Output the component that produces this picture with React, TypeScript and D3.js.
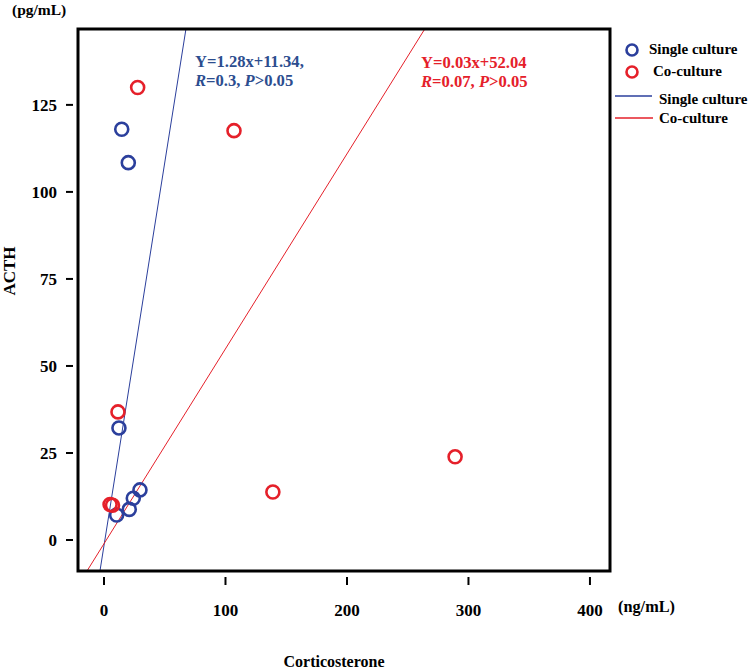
import React from "react";
import * as d3 from "d3";

// Corticosterone (ng/mL) vs ACTH (pg/mL)
const singleX = [14.6, 20, 12.3, 10.4, 20.8, 24.1, 29.6];
const singleY = [118, 108.4, 32.2, 7.2, 8.8, 12, 14.4];
const coX = [27.7, 107, 11.5, 5, 7, 139, 289];
const coY = [130, 117.6, 36.8, 10.2, 10, 13.8, 23.9];

// fitted lines as drawn: [slope, intercept]
const singleFit = [2.2, -1.6];
const coFit = [0.56, -1.06];

const xTicks = [0, 100, 200, 300, 400];
const yTicks = [0, 25, 50, 75, 100, 125];

const BLUE = "#2b3f9c";
const BLUE_TEXT = "#2c4d8f";
const RED = "#e5202a";
const FONT = "'Liberation Serif', 'DejaVu Serif', serif";

const W = 755;
const H = 671;
const box = { left: 78, right: 610, top: 29, bottom: 571 };

export default function App() {
  const x = d3.scaleLinear().domain([-21.4, 416.5]).range([box.left, box.right]);
  const y = d3.scaleLinear().domain([-8.9, 146.8]).range([box.bottom, box.top]);

  const fitLine = (fit: number[]) => {
    const [m, b] = fit;
    const [y0, y1] = y.domain();
    const [x0, x1] = x.domain();
    // clip to the box
    let xa = Math.max(x0, (y0 - b) / m);
    let xb = Math.min(x1, (y1 - b) / m);
    const line = d3.line<number>().x((d) => x(d)).y((d) => y(m * d + b));
    return line([xa, xb]) || "";
  };

  const pts = (xs: number[], ys: number[], color: string, key: string) =>
    xs.map((v, i) => (
      <circle key={key + i} cx={x(v)} cy={y(ys[i])} r={6.5} fill="none" stroke={color} strokeWidth={2.6} />
    ));

  return (
    <svg width={W} height={H} style={{ position: "absolute", left: 0, top: 0, background: "#fff" }} fontFamily={FONT} fontWeight="bold">
      <rect x={0} y={0} width={W} height={H} fill="#fff" />
      <path d={fitLine(singleFit)} stroke={BLUE} strokeWidth={1} fill="none" />
      <path d={fitLine(coFit)} stroke={RED} strokeWidth={1} fill="none" />
      {pts(singleX, singleY, BLUE, "s")}
      {pts(coX, coY, RED, "c")}

      <rect x={box.left} y={box.top} width={box.right - box.left} height={box.bottom - box.top} fill="none" stroke="#000" strokeWidth={3} />

      {yTicks.map((t) => (
        <g key={"y" + t}>
          <line x1={66} x2={73} y1={y(t)} y2={y(t)} stroke="#000" strokeWidth={2} />
          <text x={57} y={y(t)} dy="0.35em" textAnchor="end" fontSize={17}>{t}</text>
        </g>
      ))}
      {xTicks.map((t) => (
        <g key={"x" + t}>
          <line x1={x(t)} x2={x(t)} y1={577} y2={585} stroke="#000" strokeWidth={2} />
          <text x={x(t)} y={616} textAnchor="middle" fontSize={17}>{t}</text>
        </g>
      ))}

      <text x={12} y={15} fontSize={15.5}>(pg/mL)</text>
      <text x={618} y={612} fontSize={16.3}>(ng/mL)</text>
      <text transform="translate(15,271) rotate(-90)" textAnchor="middle" fontSize={17}>ACTH</text>
      <text x={334} y={667} textAnchor="middle" fontSize={16}>Corticosterone</text>

      <g fontSize={16.6}>
        <text x={195} y={67} fill={BLUE_TEXT}>Y=1.28x+11.34,</text>
        <text x={195} y={86} fill={BLUE_TEXT}>
          <tspan fontStyle="italic">R</tspan>=0.3, <tspan fontStyle="italic">P</tspan>&gt;0.05
        </text>
        <text x={421} y={68} fill={RED}>Y=0.03x+52.04</text>
        <text x={421} y={87} fill={RED}>
          <tspan fontStyle="italic">R</tspan>=0.07, <tspan fontStyle="italic">P</tspan>&gt;0.05
        </text>
      </g>

      <g fontSize={15}>
        <circle cx={632} cy={50} r={5.5} fill="none" stroke={BLUE} strokeWidth={2.6} />
        <text x={649} y={54}>Single culture</text>
        <circle cx={632} cy={72} r={5.5} fill="none" stroke={RED} strokeWidth={2.6} />
        <text x={653} y={76}>Co-culture</text>
        <line x1={615} x2={652} y1={96} y2={96} stroke={BLUE} strokeWidth={1.5} />
        <text x={659} y={104}>Single culture</text>
        <line x1={615} x2={653} y1={118} y2={118} stroke={RED} strokeWidth={1.5} />
        <text x={659} y={123}>Co-culture</text>
      </g>
    </svg>
  );
}
